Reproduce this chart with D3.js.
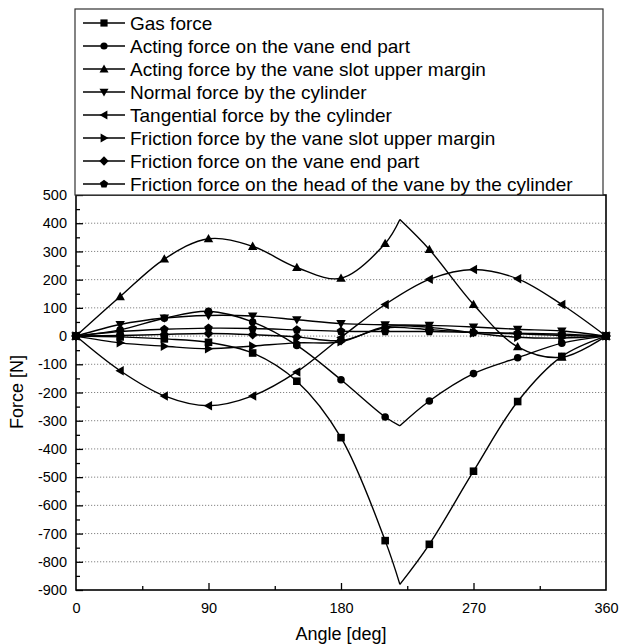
<!DOCTYPE html>
<html><head><meta charset="utf-8">
<script src="https://cdn.jsdelivr.net/npm/d3@7"></script>
<style>body{margin:0;background:#fff;}svg{display:block;font-family:Arial,"Liberation Sans",Helvetica,sans-serif;}</style>
</head><body><svg id="c" width="619" height="644"></svg>
<script>
const angles = [0,30,60,90,120,150,180,210,240,270,300,330,360];
const cuspAngle = 220;
const seriesNames = ["Gas force","Acting force on the vane end part","Acting force by the vane slot upper margin","Normal force by the cylinder","Tangential force by the cylinder","Friction force by the vane slot upper margin","Friction force on the vane end part","Friction force on the head of the vane by the cylinder"];
const seriesSymbols = ["square","circle","triUp","triDown","triLeft","triRight","diamond","pentagon"];
const gasForce      = [0,-3,-10,-22,-60,-160,-360,-725,-738,-479,-232,-72,0];
const vaneEndForce  = [0,22,63,88,50,-33,-155,-287,-230,-133,-77,-25,0];
const upperMargin   = [0,140,273,345,318,243,205,328,307,112,-38,-75,0];
const normalForce   = [0,41,64,73,71,58,44,40,38,32,24,18,0];
const tangential    = [0,-123,-212,-247,-212,-127,-5,112,201,236,203,112,0];
const fricUpper     = [0,-24,-36,-45,-35,-24,-20,33,31,11,-4,-7,0];
const fricVaneEnd   = [0,2,6,9,5,-3,-16,29,23,13,8,2,0];
const fricHead      = [0,16,24,28,27,22,17,16,16,13,10,7,0];
const cuspValues    = [-880,-318,413,null,null,null,null,null];
const seriesValues = [gasForce,vaneEndForce,upperMargin,normalForce,tangential,fricUpper,fricVaneEnd,fricHead];
const yTicks = [500,400,300,200,100,0,-100,-200,-300,-400,-500,-600,-700,-800,-900];
const xTicks = [0,90,180,270,360];

const svg = d3.select("#c");
const L=76,R=606,T=195,B=590;
const x = d3.scaleLinear().domain([0,360]).range([L,R]);
const y = d3.scaleLinear().domain([-900,500]).range([B,T]);
const fmt = d => String(d);

// grid
svg.append("g").selectAll("line").data(yTicks.filter(v=>v<500&&v>-900)).join("line")
  .attr("x1",L).attr("x2",R).attr("y1",d=>y(d)).attr("y2",d=>y(d))
  .attr("stroke","#777").attr("stroke-width",0.9).attr("stroke-dasharray","1.2,1.8");

// axes
const gx = svg.append("g").attr("transform",`translate(0,${B})`)
  .call(d3.axisBottom(x).tickValues(xTicks).tickSize(-7).tickPadding(13).tickFormat(fmt));
const gxm = svg.append("g").attr("transform",`translate(0,${B})`)
  .call(d3.axisBottom(x).tickValues([45,135,225,315]).tickSize(-4).tickFormat(""));
const gy = svg.append("g").attr("transform",`translate(${L},0)`)
  .call(d3.axisLeft(y).tickValues(yTicks).tickSize(-7).tickPadding(9).tickFormat(fmt));
const gym = svg.append("g").attr("transform",`translate(${L},0)`)
  .call(d3.axisLeft(y).tickValues(d3.range(-850,500,100)).tickSize(-4).tickFormat(""));
[gx,gxm,gy,gym].forEach(g=>{g.select(".domain").remove();g.selectAll("line").attr("stroke","#000").attr("stroke-width",1.3);g.selectAll("text").attr("fill","#000").style("font-size","14.5px");});
gx.selectAll(".tick").filter(d=>d===0||d===360).select("line").remove();
svg.append("rect").attr("x",L).attr("y",T).attr("width",R-L).attr("height",B-T).attr("fill","none").attr("stroke","#000").attr("stroke-width",1.6);

// symbols
function sym(type,s){
  switch(type){
    case "square": return `M${-s},${-s}h${2*s}v${2*s}h${-2*s}Z`;
    case "circle": return `M${s},0A${s},${s} 0 1,1 ${-s},0A${s},${s} 0 1,1 ${s},0Z`;
    case "triUp": {const h=s*1.25; return `M0,${-h}L${h},${h*0.75}L${-h},${h*0.75}Z`;}
    case "triDown": {const h=s*1.25; return `M0,${h}L${h},${-h*0.75}L${-h},${-h*0.75}Z`;}
    case "triLeft": {const h=s*1.25; return `M${-h},0L${h*0.75},${-h}L${h*0.75},${h}Z`;}
    case "triRight": {const h=s*1.25; return `M${h},0L${-h*0.75},${-h}L${-h*0.75},${h}Z`;}
    case "diamond": {const h=s*1.3; return `M0,${-h}L${h},0L0,${h}L${-h},0Z`;}
    case "pentagon": {let p=[];for(let i=0;i<5;i++){const a=-Math.PI/2+i*2*Math.PI/5;p.push([s*1.2*Math.cos(a),s*1.2*Math.sin(a)]);}return "M"+p.map(q=>q.join(",")).join("L")+"Z";}
  }
}

const line = d3.line().x(d=>x(d[0])).y(d=>y(d[1])).curve(d3.curveCatmullRom.alpha(0.5));
const plot = svg.append("g");
seriesValues.forEach((vals,i)=>{
  const pts = angles.map((a,j)=>[a,vals[j]]);
  const c = cuspValues[i];
  if(c!==null){
    const a1 = pts.filter(p=>p[0]<cuspAngle).concat([[cuspAngle,c]]);
    const a2 = [[cuspAngle,c]].concat(pts.filter(p=>p[0]>cuspAngle));
    plot.append("path").attr("d",line(a1)).attr("fill","none").attr("stroke","#000").attr("stroke-width",1.4);
    plot.append("path").attr("d",line(a2)).attr("fill","none").attr("stroke","#000").attr("stroke-width",1.4);
  } else {
    plot.append("path").attr("d",line(pts)).attr("fill","none").attr("stroke","#000").attr("stroke-width",1.4);
  }
  plot.append("g").selectAll("path").data(pts).join("path")
    .attr("transform",d=>`translate(${x(d[0])},${y(d[1])})`)
    .attr("d",sym(seriesSymbols[i],3.8)).attr("fill","#000");
});

// legend
const lg = svg.append("g");
lg.append("rect").attr("x",75).attr("y",9).attr("width",528).attr("height",186).attr("fill","#fff").attr("stroke","#333").attr("stroke-width",1.2);
seriesNames.forEach((n,i)=>{
  const cy = 23 + i*23;
  lg.append("line").attr("x1",83).attr("x2",125).attr("y1",cy).attr("y2",cy).attr("stroke","#000").attr("stroke-width",1.4);
  lg.append("path").attr("transform",`translate(104,${cy})`).attr("d",sym(seriesSymbols[i],3.6)).attr("fill","#000");
  lg.append("text").attr("x",130).attr("y",cy+7).text(n).style("font-size","19px").attr("fill","#000");
});

// titles
svg.append("text").attr("x",341).attr("y",640).attr("text-anchor","middle").style("font-size","18px").text("Angle [deg]");
svg.append("text").attr("transform","translate(23,392) rotate(-90)").attr("text-anchor","middle").style("font-size","18px").text("Force [N]");
</script></body></html>
